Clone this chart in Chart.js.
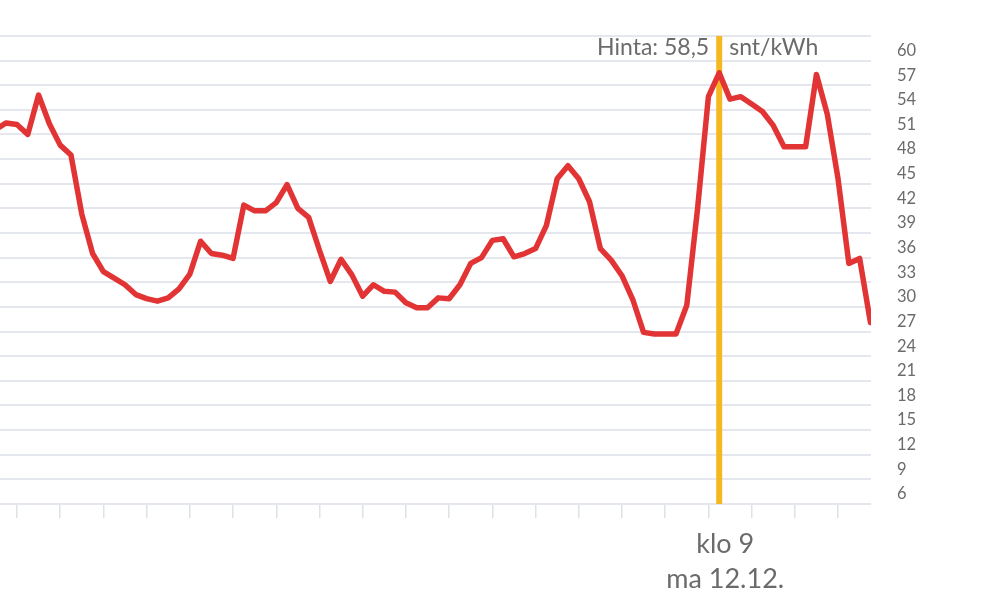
<!DOCTYPE html>
<html>
<head>
<meta charset="utf-8">
<script src="https://cdn.jsdelivr.net/npm/chart.js@4.4.0/dist/chart.umd.min.js"></script>
<style>
  html, body { margin: 0; padding: 0; background: #ffffff; }
  #wrap { width: 1005px; height: 607px; position: relative; }
</style>
</head>
<body>
<div id="wrap"><canvas id="c" width="1005" height="607"></canvas></div>
<script>
// Hourly spot price, snt/kWh, from pe 9.12. klo 14 (index 0) to ma 12.12. klo 23 (index 81)
const prices = [
  51.6, 52.4, 52.2, 51.0, 55.8, 52.3, 49.7, 48.5, 41.3, 36.5,
  34.3, 33.5, 32.7, 31.5, 31.0, 30.7, 31.1, 32.2, 34.0, 38.0,
  36.5, 36.3, 35.9, 42.4, 41.7, 41.7, 42.7, 44.9, 42.0, 40.9,
  36.9, 33.1, 35.8, 33.9, 31.3, 32.7, 31.9, 31.8, 30.5, 29.9,
  29.9, 31.1, 31.0, 32.7, 35.3, 36.0, 38.1, 38.3, 36.1, 36.5,
  37.1, 39.9, 45.6, 47.2, 45.6, 42.8, 37.1, 35.7, 33.8, 30.9,
  26.9, 26.7, 26.7, 26.7, 30.2, 42.0, 55.6, 58.5, 55.3, 55.6,
  54.7, 53.8, 52.1, 49.5, 49.5, 49.5, 58.3, 53.5, 45.6, 35.3,
  35.9, 28.1
];
// x tick marks every 4 hours (index of hour: 16, 20, 0, 4, 8, 12 ...)
const xTickHours = [2, 6, 10, 14, 18, 22, 26, 30, 34, 38, 42, 46, 50, 54, 58, 62, 66, 70, 74, 78];
// y ticks
const yMin = 6, yMax = 63, yStep = 3;
const hiddenYLabels = [63];
// current hour marker
const currentIndex = 67;
const currentPrice = 58.5;
const priceLabelLeft = 'Hinta: 58,5';
const priceLabelRight = 'snt/kWh';
const timeLabel = 'klo 9';
const dateLabel = 'ma 12.12.';

const FONT = 'Lato, "Open Sans", sans-serif';
const TEXT = '#6b6b6b';

const points = prices.map((v, i) => ({ x: i, y: v }));

const markerPlugin = {
  id: 'marker',
  beforeDatasetsDraw(chart) {
    const { ctx, chartArea, scales } = chart;
    const px = scales.x.getPixelForValue(currentIndex);
    ctx.save();
    ctx.strokeStyle = '#F5B820';
    ctx.lineWidth = 6;
    ctx.beginPath();
    ctx.moveTo(px, chartArea.top);
    ctx.lineTo(px, chartArea.bottom);
    ctx.stroke();
    ctx.restore();
  },
  afterDraw(chart) {
    const { ctx, chartArea, scales } = chart;
    const px = scales.x.getPixelForValue(currentIndex);
    ctx.save();
    ctx.fillStyle = TEXT;
    ctx.font = '23px ' + FONT;
    ctx.textBaseline = 'middle';
    ctx.textAlign = 'right';
    ctx.fillText(priceLabelLeft, px - 10, chartArea.top + 12);
    ctx.textAlign = 'left';
    ctx.fillText(priceLabelRight, px + 10, chartArea.top + 12);
    ctx.font = '27px ' + FONT;
    ctx.textAlign = 'center';
    ctx.fillText(timeLabel, px + 6, chartArea.bottom + 40);
    ctx.fillText(dateLabel, px + 6, chartArea.bottom + 75);
    ctx.restore();
  }
};

new Chart(document.getElementById('c'), {
  type: 'line',
  data: {
    datasets: [{
      data: points,
      borderColor: '#E23434',
      borderWidth: 5.5,
      pointRadius: 0,
      pointHoverRadius: 0,
      tension: 0,
      borderJoinStyle: 'round',
      borderCapStyle: 'round',
      fill: false
    }]
  },
  options: {
    responsive: false,
    animation: false,
    devicePixelRatio: 1,
    layout: { padding: { left: 0, right: 0, top: 33, bottom: 0 } },
    plugins: { legend: { display: false }, tooltip: { enabled: false } },
    scales: {
      x: {
        type: 'linear',
        min: 0.43,
        max: 81.05,
        afterBuildTicks(scale) { scale.ticks = xTickHours.map(v => ({ value: v })); },
        afterFit(scale) { scale.height = 103; },
        grid: {
          drawOnChartArea: false,
          drawTicks: true,
          tickLength: 14,
          color: '#dde1e8',
          tickColor: (c) => (c.tick && xTickHours.includes(c.tick.value)) ? '#dde1e8' : 'rgba(0,0,0,0)',
          lineWidth: 1.5
        },
        border: { display: false },
        ticks: { display: false }
      },
      y: {
        position: 'right',
        min: yMin,
        max: yMax,
        afterFit(scale) { scale.width = 134; },
        ticks: {
          stepSize: yStep,
          padding: 26,
          labelOffset: -10,
          color: TEXT,
          font: { family: FONT, size: 16.5 },
          callback: (v) => hiddenYLabels.includes(v) ? '' : String(v)
        },
        grid: { color: '#e4e8ee', lineWidth: 2, drawTicks: false },
        border: { display: false }
      }
    }
  },
  plugins: [markerPlugin]
});
</script>
</body>
</html>
